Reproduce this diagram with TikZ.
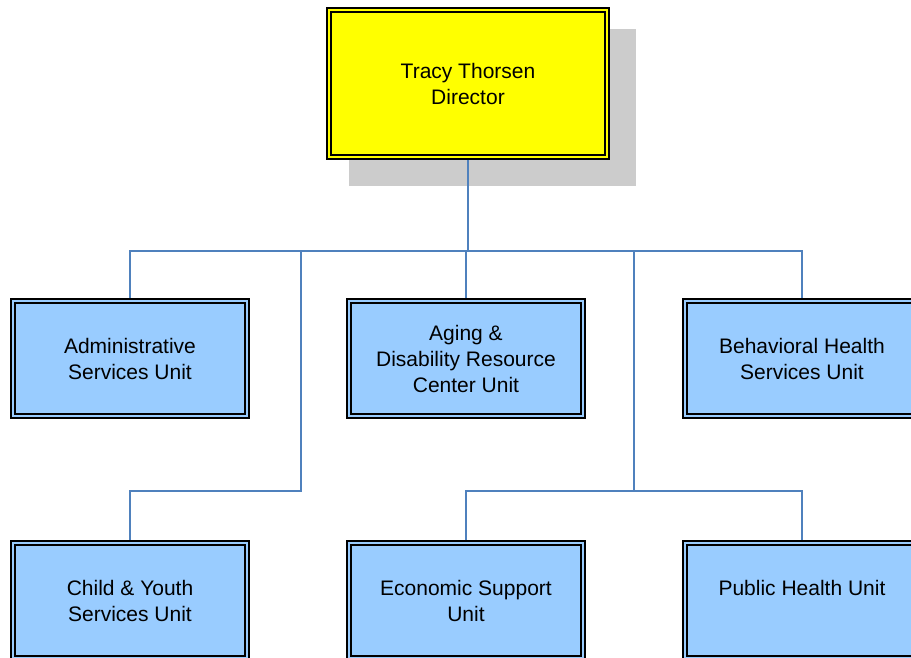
\documentclass[tikz,border=0pt]{standalone}
\usepackage{fontspec}
\setmainfont{Liberation Sans}
\usetikzlibrary{calc,backgrounds}
\definecolor{dirfill}{RGB}{255,255,0}
\definecolor{unitfill}{RGB}{153,204,255}
\definecolor{wireblue}{RGB}{79,129,189}
\definecolor{shadowgray}{RGB}{204,204,204}
\tikzset{
  box/.style={draw=black, line width=1.8pt, double distance=2.6pt, outer sep=3.1pt,
    inner sep=0pt, align=center, text=black, font=\fontsize{21}{26}\selectfont},
  unit/.style={box, double=unitfill, fill=unitfill, minimum width=233.8pt, minimum height=114.8pt},
  head/.style={box, double=dirfill, fill=dirfill, minimum width=277.8pt, minimum height=146.8pt},
  wire/.style={draw=wireblue, line width=1.8pt}
}

\begin{document}
\begin{tikzpicture}
      \useasboundingbox (0,0) rectangle (911pt,-658pt);
      \clip (0,0) rectangle (911pt,-658pt);
      \node[head] (dir) at (468pt,-83.5pt) {Tracy Thorsen\\Director};
      \node[unit] (adm) at (130pt,-358.5pt) {Administrative\\Services Unit};
      \node[unit] (adrc) at (466pt,-358.5pt) {Aging \&\\Disability Resource\\Center Unit};
      \node[unit] (bhs) at (802pt,-358.5pt) {Behavioral Health\\Services Unit};
      \node[unit] (cys) at (130pt,-600.5pt) {Child \& Youth\\Services Unit};
      \node[unit] (esu) at (466pt,-600.5pt) {Economic Support\\Unit};
      \node[unit] (phu) at (802pt,-600.5pt) {Public Health Unit\\\mbox{}};
      \begin{scope}[on background layer]
        \fill[shadowgray] ([shift={(23pt,-22pt)}]dir.north west) rectangle ([shift={(26pt,-26pt)}]dir.south east);
      \end{scope}
      \coordinate (bus) at ([yshift=47pt]adrc.north);
      \coordinate (lowbus) at ([yshift=49pt]esu.north);
      \coordinate (ldrop) at ([xshift=3pt]$(adm.east)!0.5!(adrc.west)$);
      \coordinate (rdrop) at ($(adrc.east)!0.5!(bhs.west)$);
      \draw[wire] (dir.south) -- (dir.south |- bus);
      \draw[wire] (adm.north) |- (bus) -| (bhs.north);
      \draw[wire] (bus) -- (adrc.north);
      \draw[wire] (ldrop |- bus) -- (ldrop |- lowbus) -| (cys.north);
      \draw[wire] (rdrop |- bus) -- (rdrop |- lowbus);
      \draw[wire] (esu.north) -- (lowbus) -| (phu.north);
    \end{tikzpicture}
\end{document}
